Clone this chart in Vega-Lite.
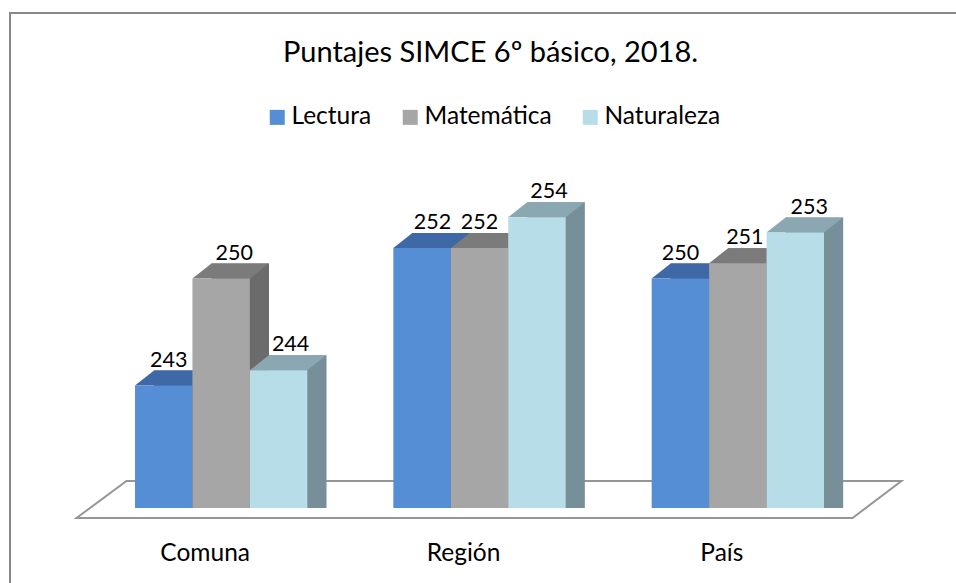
{
"$schema":"https://vega.github.io/schema/vega-lite/v6.json",
"width":960,"height":600,
"autosize":{"type":"none"},
"padding":{"left":10,"top":13,"right":0,"bottom":0},
"background":"white",
"view":{"stroke":"#888888","strokeWidth":2,"fill":"white"},
"title":{"text":"Puntajes SIMCE 6º básico, 2018.","font":"Lato","fontSize":29,"fontWeight":"normal","color":"#000000","anchor":"start","frame":"group","offset":-55,"dx":273},
"data":{"values":[
{"lugar":"Comuna","asignatura":"Lectura","puntaje":243,"base":235},
{"lugar":"Comuna","asignatura":"Matemática","puntaje":250,"base":235},
{"lugar":"Comuna","asignatura":"Naturaleza","puntaje":244,"base":235},
{"lugar":"Región","asignatura":"Lectura","puntaje":252,"base":235},
{"lugar":"Región","asignatura":"Matemática","puntaje":252,"base":235},
{"lugar":"Región","asignatura":"Naturaleza","puntaje":254,"base":235},
{"lugar":"País","asignatura":"Lectura","puntaje":250,"base":235},
{"lugar":"País","asignatura":"Matemática","puntaje":251,"base":235},
{"lugar":"País","asignatura":"Naturaleza","puntaje":253,"base":235}
]},
"resolve":{"scale":{"xOffset":"independent"}},
"encoding":{
"x":{"field":"lugar","type":"nominal","sort":["Comuna","Región","País"],"title":null,
"scale":{"domain":["Comuna","Región","País"],"range":[82,857],"paddingInner":0.333,"paddingOuter":0.1665},
"axis":{"domain":false,"ticks":false,"grid":false,"labelAngle":0,"labelFont":"Lato","labelFontSize":24.5,"labelColor":"#000000","labelPadding":-60,"labelBaseline":"middle","labelOffset":-16}},
"xOffset":{"field":"asignatura","type":"nominal","scale":{"type":"band","domain":["Lectura","Matemática","Naturaleza"],"paddingInner":0,"paddingOuter":0}},
"y":{"field":"puntaje","type":"quantitative","title":null,
"scale":{"domain":[235,260],"range":[495,112.5],"nice":false,"zero":false},
"axis":null}
},
"layer":[
{"transform":[{"filter":"datum.lugar==='Región' && datum.asignatura==='Matemática'"}],
 "mark":{"type":"point","filled":false,"opacity":1,"size":4,"strokeWidth":2,
 "shape":"M-403 10 L373 10 L422 -27 L-353 -27 Z"},
 "encoding":{"y":{"field":"base","type":"quantitative"},"color":{"value":"#969696"}}},
{"transform":[{"filter":"datum.asignatura==='Lectura'"}],
 "mark":{"type":"bar","yOffset":-15},
 "encoding":{"xOffset":{"field":"asignatura","type":"nominal","scale":{"type":"band","domain":["Lectura","Matemática","Naturaleza"],"range":[19,191.5],"paddingInner":0,"paddingOuter":0}},"color":{"value":"#2f5a96"},"y2":{"field":"base"}}},
{"transform":[{"filter":"datum.asignatura==='Lectura'"}],
 "mark":{"type":"point","filled":true,"size":4,"opacity":1,"strokeWidth":0,"shape":"M-28.75 0 L-9.75 -15 L47.75 -15 L28.75 0 Z"},
 "encoding":{"color":{"value":"#3f69a6"}}},
{"transform":[{"filter":"datum.asignatura==='Lectura'"}],
 "mark":{"type":"bar"},
 "encoding":{"color":{"field":"asignatura","type":"nominal","title":null,
   "scale":{"domain":["Lectura","Matemática","Naturaleza"],"range":["#558ed5","#a6a6a6","#b7dee8"]},
   "legend":{"orient":"none","legendX":255,"legendY":92,"direction":"horizontal","symbolType":"square","symbolSize":225,"symbolStrokeWidth":0,"labelFont":"Lato","labelFontSize":24.5,"labelColor":"#000000","labelOffset":2,"columnPadding":26,"symbolOpacity":1}},
  "y2":{"field":"base"}}},
{"transform":[{"filter":"datum.asignatura==='Matemática'"}],
 "mark":{"type":"bar","yOffset":-15},
 "encoding":{"xOffset":{"field":"asignatura","type":"nominal","scale":{"type":"band","domain":["Lectura","Matemática","Naturaleza"],"range":[19,191.5],"paddingInner":0,"paddingOuter":0}},"color":{"value":"#6b6b6b"},"y2":{"field":"base"}}},
{"transform":[{"filter":"datum.asignatura==='Matemática'"}],
 "mark":{"type":"point","filled":true,"size":4,"opacity":1,"strokeWidth":0,"shape":"M-28.75 0 L-9.75 -15 L47.75 -15 L28.75 0 Z"},
 "encoding":{"color":{"value":"#7b7b7b"}}},
{"transform":[{"filter":"datum.asignatura==='Matemática'"}],
 "mark":{"type":"bar"},
 "encoding":{"color":{"field":"asignatura","type":"nominal"},"y2":{"field":"base"}}},
{"transform":[{"filter":"datum.asignatura==='Naturaleza'"}],
 "mark":{"type":"bar","yOffset":-15},
 "encoding":{"xOffset":{"field":"asignatura","type":"nominal","scale":{"type":"band","domain":["Lectura","Matemática","Naturaleza"],"range":[19,191.5],"paddingInner":0,"paddingOuter":0}},"color":{"value":"#778f98"},"y2":{"field":"base"}}},
{"transform":[{"filter":"datum.asignatura==='Naturaleza'"}],
 "mark":{"type":"point","filled":true,"size":4,"opacity":1,"strokeWidth":0,"shape":"M28.75 0 L47.75 -15 L28.75 -15 Z"},
 "encoding":{"y":{"field":"base","type":"quantitative"},"color":{"value":"#778f98"}}},
{"transform":[{"filter":"datum.asignatura==='Naturaleza'"}],
 "mark":{"type":"point","filled":true,"size":4,"opacity":1,"strokeWidth":0,"shape":"M-28.75 0 L-9.75 -15 L47.75 -15 L28.75 0 Z"},
 "encoding":{"color":{"value":"#8aa7b2"}}},
{"transform":[{"filter":"datum.asignatura==='Naturaleza'"}],
 "mark":{"type":"bar"},
 "encoding":{"color":{"field":"asignatura","type":"nominal"},"y2":{"field":"base"}}},
{"transform":[{"filter":"datum.lugar==='Comuna' && datum.asignatura==='Lectura'"}],"mark":{"type":"text","font":"Lato","fontSize":21.5,"color":"#000000","baseline":"alphabetic","dx":5,"dy":-19},"encoding":{"text":{"field":"puntaje","type":"quantitative"}}},
{"transform":[{"filter":"datum.lugar==='Comuna' && datum.asignatura==='Matemática'"}],"mark":{"type":"text","font":"Lato","fontSize":21.5,"color":"#000000","baseline":"alphabetic","dx":13,"dy":-19},"encoding":{"text":{"field":"puntaje","type":"quantitative"}}},
{"transform":[{"filter":"datum.lugar==='Comuna' && datum.asignatura==='Naturaleza'"}],"mark":{"type":"text","font":"Lato","fontSize":21.5,"color":"#000000","baseline":"alphabetic","dx":12,"dy":-19},"encoding":{"text":{"field":"puntaje","type":"quantitative"}}},
{"transform":[{"filter":"datum.lugar==='Región' && datum.asignatura==='Lectura'"}],"mark":{"type":"text","font":"Lato","fontSize":21.5,"color":"#000000","baseline":"alphabetic","dx":10.5,"dy":-19},"encoding":{"text":{"field":"puntaje","type":"quantitative"}}},
{"transform":[{"filter":"datum.lugar==='Región' && datum.asignatura==='Matemática'"}],"mark":{"type":"text","font":"Lato","fontSize":21.5,"color":"#000000","baseline":"alphabetic","dx":0,"dy":-19},"encoding":{"text":{"field":"puntaje","type":"quantitative"}}},
{"transform":[{"filter":"datum.lugar==='Región' && datum.asignatura==='Naturaleza'"}],"mark":{"type":"text","font":"Lato","fontSize":21.5,"color":"#000000","baseline":"alphabetic","dx":12,"dy":-19},"encoding":{"text":{"field":"puntaje","type":"quantitative"}}},
{"transform":[{"filter":"datum.lugar==='País' && datum.asignatura==='Lectura'"}],"mark":{"type":"text","font":"Lato","fontSize":21.5,"color":"#000000","baseline":"alphabetic","dx":0,"dy":-19},"encoding":{"text":{"field":"puntaje","type":"quantitative"}}},
{"transform":[{"filter":"datum.lugar==='País' && datum.asignatura==='Matemática'"}],"mark":{"type":"text","font":"Lato","fontSize":21.5,"color":"#000000","baseline":"alphabetic","dx":7,"dy":-19},"encoding":{"text":{"field":"puntaje","type":"quantitative"}}},
{"transform":[{"filter":"datum.lugar==='País' && datum.asignatura==='Naturaleza'"}],"mark":{"type":"text","font":"Lato","fontSize":21.5,"color":"#000000","baseline":"alphabetic","dx":14,"dy":-19},"encoding":{"text":{"field":"puntaje","type":"quantitative"}}}
]
}
